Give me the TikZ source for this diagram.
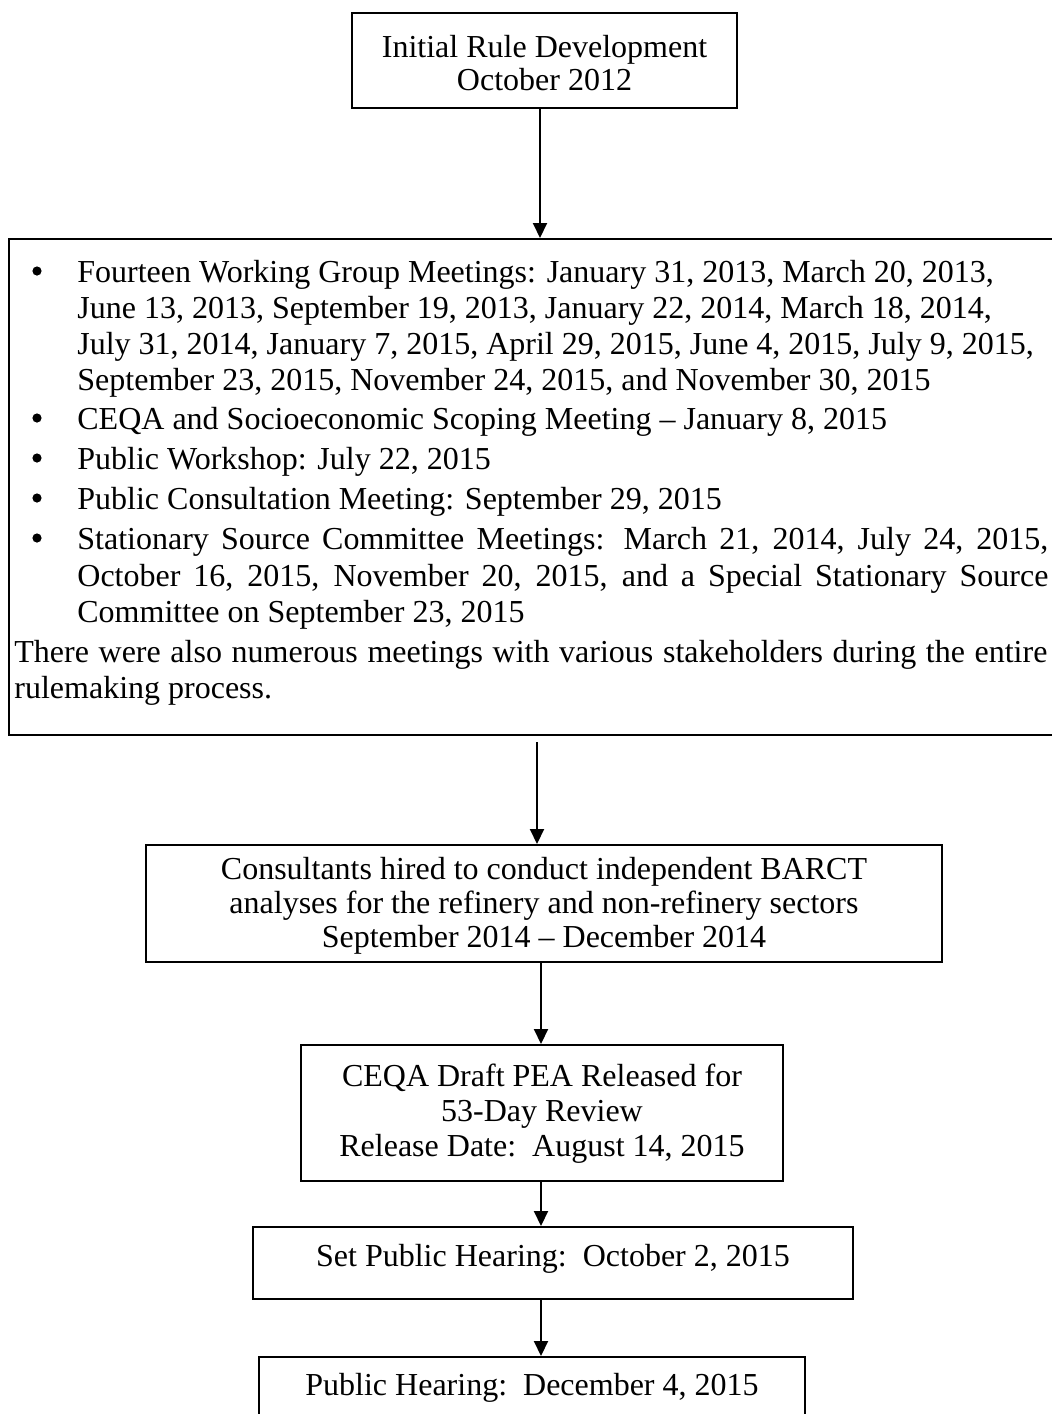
\documentclass[tikz,border=0pt]{standalone}
\usepackage{fontspec}
\setmainfont{Liberation Serif}
\usetikzlibrary{arrows.meta}
\begin{document}
\begin{tikzpicture}[x=0.5pt,y=-0.5pt,
  box/.style={draw, line width=1pt, inner sep=0pt},
  arr/.style={line width=1pt, -{Triangle[width=7pt,length=7.5pt]}},
  txt/.style={inner sep=0pt, font=\fontsize{16}{18}\selectfont},
  ln/.style={txt, anchor=base west},
  bul/.style={circle, fill=black, inner sep=0pt, minimum size=4.6pt},
  ctr/.style={inner sep=0pt, align=center, anchor=base},
]
\useasboundingbox (0,0) rectangle (1052,1414);

% boxes
\node[box, minimum width=192.5pt, minimum height=47.5pt] (b1) at (544.5,60.5) {};
\node[box, minimum width=530.5pt, minimum height=248pt] (b2) at (539.5,487) {};
\node[box, minimum width=398pt, minimum height=58.5pt] (b3) at (544,903.5) {};
\node[box, minimum width=241pt, minimum height=68pt] (b4) at (542,1113) {};
\node[box, minimum width=300pt, minimum height=36pt] (b5) at (553,1263) {};
\node[box, minimum width=273pt, minimum height=36.5pt] (b6) at (532,1393.5) {};

% centred texts (anchor = baseline of the last line)
\node[ctr, font=\fontsize{16}{16.5}\selectfont] (t1) at (544.5,90) {Initial Rule Development\\October 2012};
\node[ctr, font=\fontsize{16}{17}\selectfont] (t3) at (544,947) {Consultants hired to conduct independent BARCT\\analyses for the refinery and non-refinery sectors\\September 2014 – December 2014};
\node[ctr, font=\fontsize{16}{17.5}\selectfont] (t4) at (542,1156) {CEQA Draft PEA Released for\\53-Day Review\\Release Date:\ \ August 14, 2015};
\node[ctr, font=\fontsize{16}{18}\selectfont] (t5) at (553,1266) {Set Public Hearing:\ \ October 2, 2015};
\node[ctr, font=\fontsize{16}{18}\selectfont] (t6) at (532,1395) {Public Hearing:\ \ December 4, 2015};

% big box contents
\node[bul] (u1) at (37,271) {};
\node[ln] (l1) at (77,282) {Fourteen Working Group Meetings: January 31, 2013, March 20, 2013,};
\node[ln] (l2) at (77,318) {June 13, 2013, September 19, 2013, January 22, 2014, March 18, 2014,};
\node[ln] (l3) at (77,354) {July 31, 2014, January 7, 2015, April 29, 2015, June 4, 2015, July 9, 2015,};
\node[ln] (l4) at (77,390) {September 23, 2015, November 24, 2015, and November 30, 2015};
\node[bul] (u2) at (37,418) {};
\node[ln] (l5) at (77,429) {CEQA and Socioeconomic Scoping Meeting – January 8, 2015};
\node[bul] (u3) at (37,458) {};
\node[ln] (l6) at (77,469) {Public Workshop: July 22, 2015};
\node[bul] (u4) at (37,498) {};
\node[ln] (l7) at (77,509) {Public Consultation Meeting: September 29, 2015};
\node[bul] (u5) at (37,538) {};
\node[ln] (l8) at (77,549) {\makebox[485.5pt][s]{Stationary Source Committee Meetings: March 21, 2014, July 24, 2015,}};
\node[ln] (l9) at (77,586) {\makebox[485.5pt][s]{October 16, 2015, November 20, 2015, and a Special Stationary Source}};
\node[ln] (l10) at (77,622) {Committee on September 23, 2015};
\node[ln] (l11) at (14,662) {\makebox[516.5pt][s]{There were also numerous meetings with various stakeholders during the entire}};
\node[ln] (l12) at (14,698) {rulemaking process.};

% connectors
\coordinate (a1) at (540,0);
\coordinate (a2) at (537,742);
\coordinate (a3) at (541,0);
\draw[arr] (b1.south -| a1) -- (b2.north -| a1);
\draw[arr] (a2) -- (a2 |- b3.north);
\draw[arr] (b3.south -| a3) -- (b4.north -| a3);
\draw[arr] (b4.south -| a3) -- (b5.north -| a3);
\draw[arr] (b5.south -| a3) -- (b6.north -| a3);
\end{tikzpicture}
\end{document}
